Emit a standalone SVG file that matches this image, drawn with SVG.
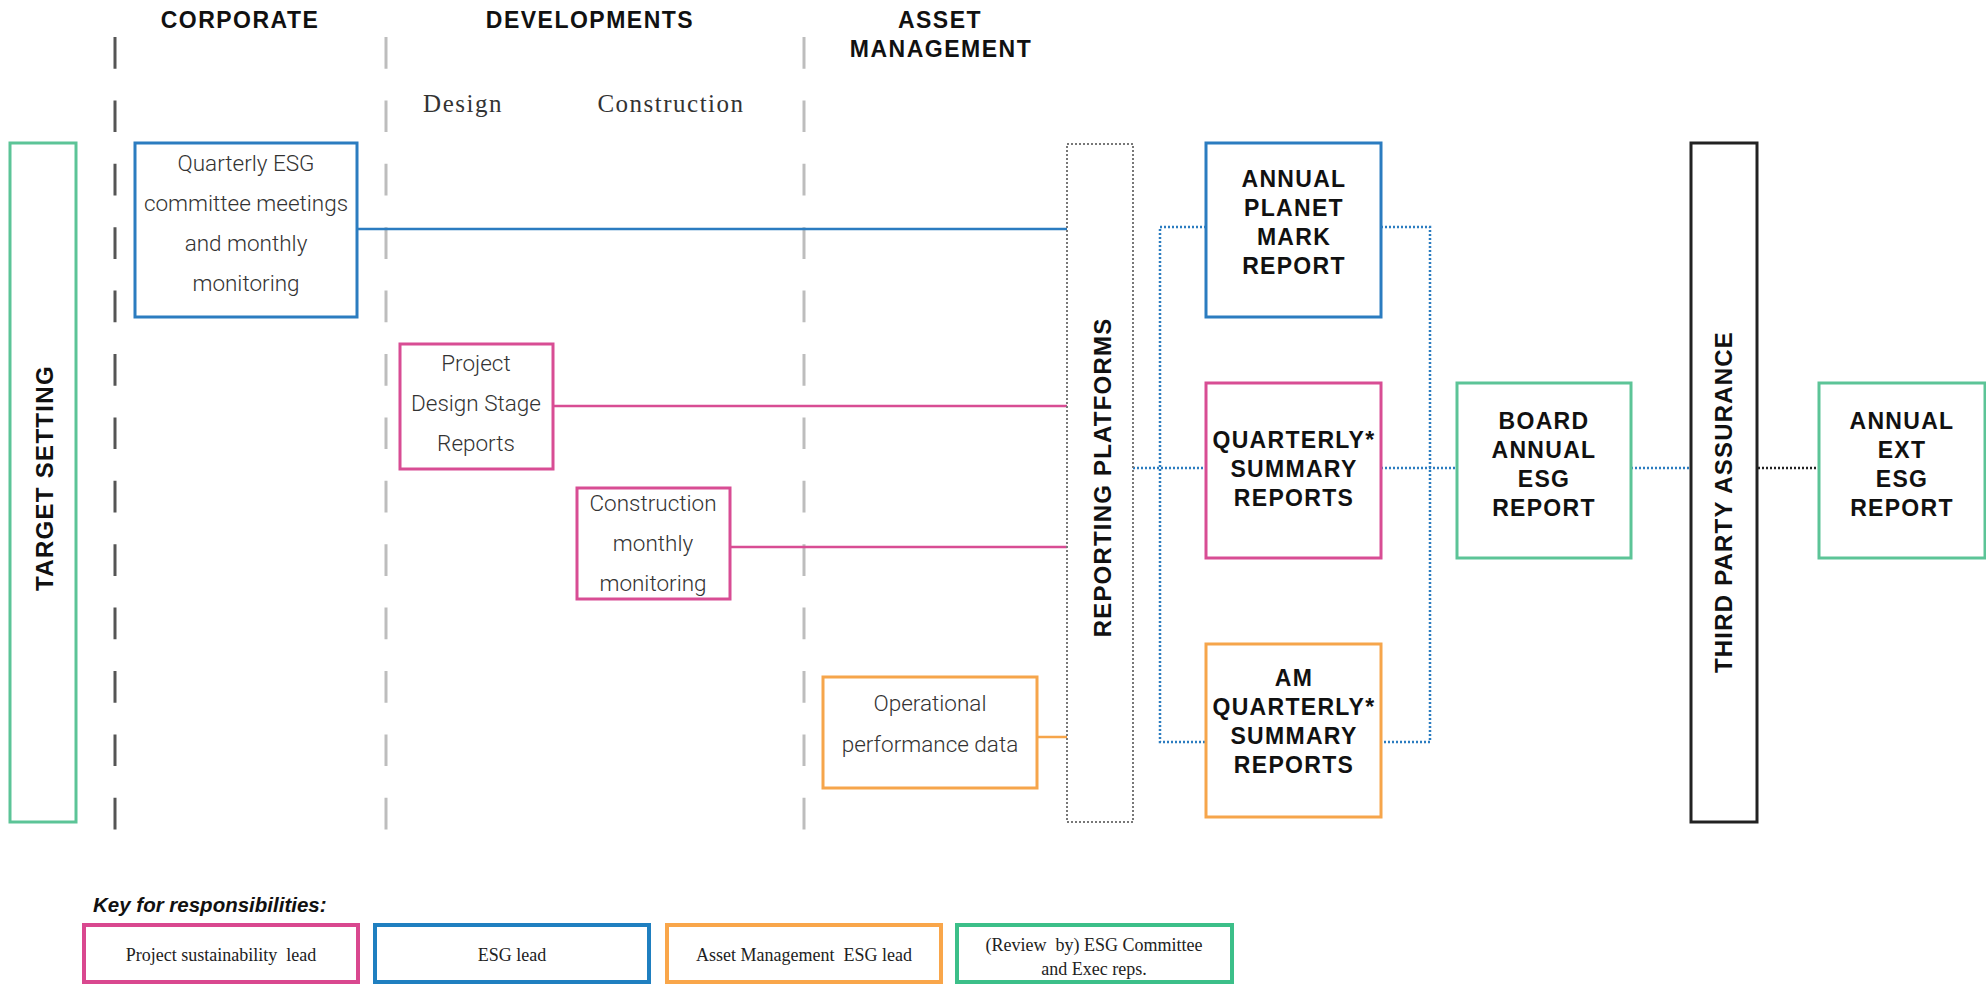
<svg xmlns="http://www.w3.org/2000/svg" width="1986" height="984" viewBox="0 0 1986 984">
<style>
.hdr{font-family:"Liberation Sans",Arial,sans-serif;font-weight:bold;font-size:23px;letter-spacing:1.5px;fill:#111;text-anchor:middle}
.sub{font-family:"Liberation Serif","Times New Roman",serif;font-size:25px;letter-spacing:1.5px;fill:#333;text-anchor:middle}
.lane{fill:none;stroke-width:3;stroke-dasharray:31.7 31.7}
.lane.dark{stroke:#555}
.lane.light{stroke:#bdbdbd}
.box{fill:#fff;stroke-width:3}
.blue{stroke:#2b7cc0}
.pink{stroke:#d84d94}
.orange{stroke:#f6a54b}
.green{stroke:#5cc497}
.black{stroke:#222}
.body{font-family:Roboto,"Liberation Sans",Arial,sans-serif;font-weight:300;font-size:22.5px;fill:#333;text-anchor:middle}
.cap{font-family:"Liberation Sans",Arial,sans-serif;font-weight:bold;font-size:23px;letter-spacing:1.3px;fill:#111;text-anchor:middle}
.vert{font-family:"Liberation Sans",Arial,sans-serif;font-weight:bold;font-size:24px;fill:#111;text-anchor:middle}
.solid{fill:none;stroke-width:2.5}
.dot{fill:none;stroke-width:2.5;stroke-dasharray:2 2}
.grayDot{fill:#fff;stroke:#777;stroke-width:2;stroke-dasharray:2 2}
.kbox{fill:#fff;stroke-width:4}
.kblue{stroke:#1f7fc0}
.kpink{stroke:#d9488f}
.korange{stroke:#f9a64a}
.kgreen{stroke:#3cbf89}
.ktext{font-family:"Liberation Serif","Times New Roman",serif;font-size:18px;fill:#222;text-anchor:middle}
.ktitle{font-family:"Liberation Sans",Arial,sans-serif;font-weight:bold;font-style:italic;font-size:20.5px;fill:#111}
</style>

<g id="headers">
<text class="hdr" x="240" y="28">CORPORATE</text>
<text class="hdr" x="590" y="28">DEVELOPMENTS</text>
<text class="hdr" x="940" y="28">ASSET</text>
<text class="hdr" x="941" y="57">MANAGEMENT</text>
<text class="sub" x="463" y="112">Design</text>
<text class="sub" x="671" y="112">Construction</text>
</g>

<g id="lanes">
<line class="lane dark" x1="115" y1="37" x2="115" y2="832"/>
<line class="lane light" x1="386" y1="37" x2="386" y2="832"/>
<line class="lane light" x1="804" y1="37" x2="804" y2="832"/>
</g>

<g id="connectors">
<line class="solid blue" x1="357" y1="229" x2="1067" y2="229"/>
<line class="solid pink" x1="553" y1="406" x2="1067" y2="406"/>
<line class="solid pink" x1="730" y1="547" x2="1067" y2="547"/>
<line class="solid orange" x1="1037" y1="737" x2="1067" y2="737"/>
<path class="dot blue" d="M1133 468 H1206 M1206 227 H1160 V742 H1206 M1381 227 H1430 V742 H1381 M1381 468 H1457 M1631 468 H1691"/>
<line class="dot black" x1="1758" y1="468" x2="1818" y2="468"/>
</g>

<g id="target-setting">
<rect class="box green" x="10" y="143" width="66" height="679"/>
<text class="vert" style="letter-spacing:1.3px" transform="translate(53,478) rotate(-90)">TARGET SETTING</text>
</g>

<g id="esg-meetings">
<rect class="box blue" x="135" y="143" width="222" height="174"/>
<text class="body" x="246" y="171">Quarterly ESG</text>
<text class="body" x="246" y="211">committee meetings</text>
<text class="body" x="246" y="251">and monthly</text>
<text class="body" x="246" y="291">monitoring</text>
</g>

<g id="design-reports">
<rect class="box pink" x="400" y="344" width="153" height="125"/>
<text class="body" x="476" y="371">Project</text>
<text class="body" x="476" y="411">Design Stage</text>
<text class="body" x="476" y="451">Reports</text>
</g>

<g id="construction-monitoring">
<rect class="box pink" x="577" y="488" width="153" height="111"/>
<text class="body" x="653" y="511">Construction</text>
<text class="body" x="653" y="551">monthly</text>
<text class="body" x="653" y="591">monitoring</text>
</g>

<g id="operational-data">
<rect class="box orange" x="823" y="677" width="214" height="111"/>
<text class="body" x="930" y="711">Operational</text>
<text class="body" x="930" y="752">performance data</text>
</g>

<g id="reporting-platforms">
<rect class="grayDot" x="1067" y="144" width="66" height="678"/>
<text class="vert" style="letter-spacing:1.2px" transform="translate(1111,477.5) rotate(-90)">REPORTING PLATFORMS</text>
</g>

<g id="planet-mark">
<rect class="box blue" x="1206" y="143" width="175" height="174"/>
<text class="cap" x="1294" y="187">ANNUAL</text>
<text class="cap" x="1294" y="216">PLANET</text>
<text class="cap" x="1294" y="245">MARK</text>
<text class="cap" x="1294" y="274">REPORT</text>
</g>

<g id="quarterly-summary">
<rect class="box pink" x="1206" y="383" width="175" height="175"/>
<text class="cap" x="1294" y="448">QUARTERLY*</text>
<text class="cap" x="1294" y="477">SUMMARY</text>
<text class="cap" x="1294" y="506">REPORTS</text>
</g>

<g id="am-quarterly">
<rect class="box orange" x="1206" y="644" width="175" height="173"/>
<text class="cap" x="1294" y="686">AM</text>
<text class="cap" x="1294" y="715">QUARTERLY*</text>
<text class="cap" x="1294" y="744">SUMMARY</text>
<text class="cap" x="1294" y="773">REPORTS</text>
</g>

<g id="board-report">
<rect class="box green" x="1457" y="383" width="174" height="175"/>
<text class="cap" x="1544" y="429">BOARD</text>
<text class="cap" x="1544" y="458">ANNUAL</text>
<text class="cap" x="1544" y="487">ESG</text>
<text class="cap" x="1544" y="516">REPORT</text>
</g>

<g id="third-party">
<rect class="box black" x="1691" y="143" width="66" height="679"/>
<text class="vert" style="letter-spacing:1.2px" transform="translate(1732,502) rotate(-90)">THIRD PARTY ASSURANCE</text>
</g>

<g id="annual-ext">
<rect class="box green" x="1819" y="383" width="166" height="175"/>
<text class="cap" x="1902" y="429">ANNUAL</text>
<text class="cap" x="1902" y="458">EXT</text>
<text class="cap" x="1902" y="487">ESG</text>
<text class="cap" x="1902" y="516">REPORT</text>
</g>

<g id="key">
<text class="ktitle" x="93" y="912">Key for responsibilities:</text>
<rect class="kbox kpink" x="84" y="925" width="274" height="57"/>
<text class="ktext" x="221" y="961" xml:space="preserve">Project sustainability  lead</text>
<rect class="kbox kblue" x="375" y="925" width="274" height="57"/>
<text class="ktext" x="512" y="961">ESG lead</text>
<rect class="kbox korange" x="667" y="925" width="274" height="57"/>
<text class="ktext" x="804" y="961" xml:space="preserve">Asset Management  ESG lead</text>
<rect class="kbox kgreen" x="957" y="925" width="275" height="57"/>
<text class="ktext" x="1094" y="951" xml:space="preserve">(Review  by) ESG Committee</text>
<text class="ktext" x="1094" y="975">and Exec reps.</text>
</g>
</svg>
